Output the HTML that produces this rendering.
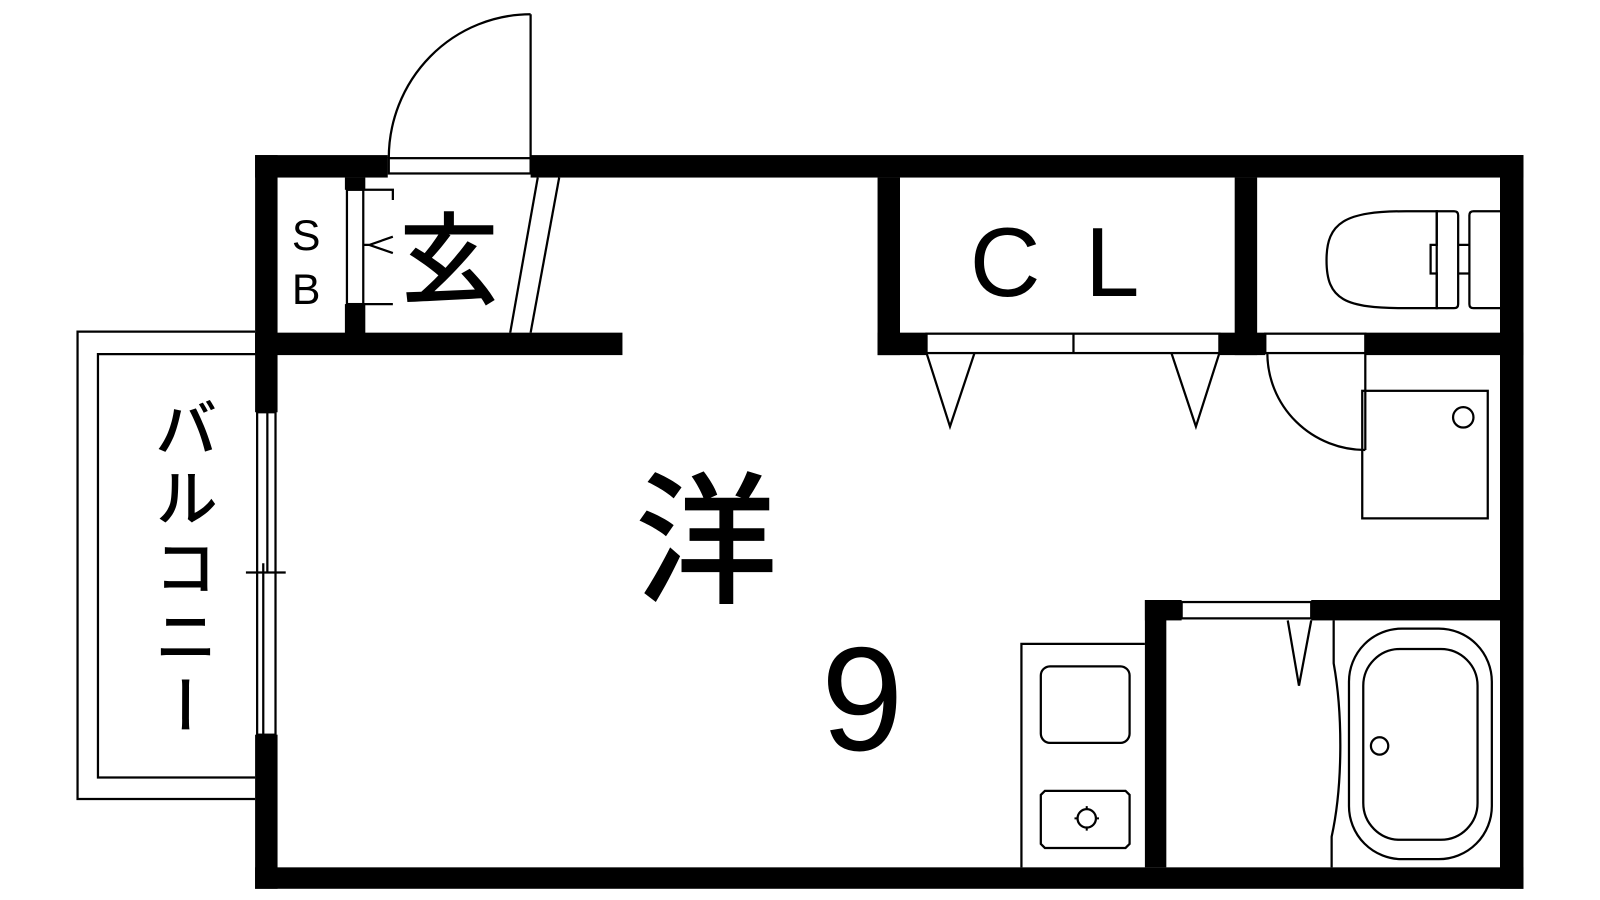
<!DOCTYPE html>
<html><head><meta charset="utf-8"><style>
html,body{margin:0;padding:0;background:#fff;}
svg{display:block;}
text{font-family:"Liberation Sans","Noto Sans CJK JP",sans-serif;fill:#000;}
</style></head><body>
<svg width="1600" height="900" viewBox="0 0 1568 882" preserveAspectRatio="none" xmlns="http://www.w3.org/2000/svg">
<g fill="#000" stroke="none">
<rect x="250" y="152" width="130" height="22"/>
<rect x="520" y="152" width="973" height="22"/>
<rect x="250" y="152" width="22" height="252"/>
<rect x="250" y="720" width="22" height="151"/>
<rect x="1470" y="152" width="23" height="719"/>
<rect x="250" y="850" width="1243" height="21"/>
<rect x="338" y="174" width="20" height="12"/>
<rect x="338" y="298" width="20" height="30"/>
<rect x="250" y="326" width="360" height="22"/>
<rect x="860" y="174" width="22" height="174"/>
<rect x="860" y="326" width="48" height="22"/>
<rect x="1210" y="174" width="22" height="174"/>
<rect x="1195" y="326" width="45" height="22"/>
<rect x="1338" y="326" width="155" height="22"/>
<rect x="1122" y="588" width="36" height="20"/>
<rect x="1285" y="588" width="208" height="20"/>
<rect x="1122" y="588" width="21" height="262"/>
</g>
<g fill="none" stroke="#000" stroke-width="2.2">
<rect x="381" y="155" width="139" height="15"/>
<line x1="520" y1="14" x2="520" y2="155"/>
<path d="M381,155 A139,141 0 0 1 520,14"/>
<rect x="340" y="186" width="16" height="112"/>
<path d="M356,186 H385 V196 M356,298 H385 M356,240 H362 L385,232 M362,240 L385,248"/>
<line x1="527" y1="174" x2="500" y2="326"/>
<line x1="548" y1="174" x2="520" y2="326"/>
<path d="M250,325 H76 V783 H250"/>
<path d="M250,347 H96 V762 H250"/>
<rect x="252" y="404" width="18" height="316"/>
<line x1="262" y1="404" x2="262" y2="562"/>
<line x1="258" y1="552" x2="258" y2="720"/>
<line x1="241" y1="561" x2="280" y2="561"/>
<rect x="908" y="327" width="287" height="19"/>
<line x1="1052" y1="327" x2="1052" y2="346"/>
<path d="M908,346 L931,418 L955,346"/>
<path d="M1148,346 L1172,418 L1195,346"/>
<path d="M1408,207 H1378 C1318,207 1300,218 1300,255 C1300,294 1318,302 1378,302 H1408 Z"/>
<path d="M1408,207 V240 H1402 V268 H1408 V302 H1425 Q1429,302 1429,298 V211 Q1429,207 1425,207 Z"/>
<path d="M1429,240 H1440 M1429,268 H1440"/>
<path d="M1470,207 H1444 Q1440,207 1440,211 V298 Q1440,302 1444,302 H1470"/>
<rect x="1240" y="327" width="98" height="19"/>
<path d="M1242,346 A96,95 0 0 0 1338,441"/>
<line x1="1338" y1="346" x2="1338" y2="441"/>
<rect x="1335" y="383" width="123" height="125"/>
<circle cx="1434" cy="409" r="10"/>
<path d="M1122,631 H1001 V850"/>
<rect x="1020" y="653" width="87" height="75" rx="9"/>
<path d="M1024,775 H1103 L1107,779 V827 L1103,831 H1024 L1020,827 V779 Z"/>
<path d="M1065,790 V814 M1053,802 H1077" stroke-width="2"/>
<rect x="1158" y="590" width="127" height="16"/>
<path d="M1262,608 L1273,672 L1285,608"/>
<path d="M1307,608 V650 C1316,700 1316,770 1305,820 V850"/>
<rect x="1322" y="616" width="140" height="226" rx="52"/>
<rect x="1336" y="636" width="112" height="187" rx="36"/>
<circle cx="1352" cy="731" r="8.5"/>
</g>
<circle cx="1065" cy="802" r="9" fill="#fff" stroke="#000" stroke-width="2.2"/>
<text x="300" y="245" font-size="42" text-anchor="middle">S</text>
<text x="300" y="298" font-size="42" text-anchor="middle">B</text>
<text x="440" y="290" font-size="98" font-weight="500" text-anchor="middle" font-family="Noto Sans CJK JP, sans-serif">玄</text>
<text x="985" y="290" font-size="96" text-anchor="middle">C</text>
<text x="1090" y="290" font-size="96" text-anchor="middle">L</text>
<text x="692" y="580" font-size="140" font-weight="500" text-anchor="middle" font-family="Noto Sans CJK JP, sans-serif">洋</text>
<text x="845" y="735" font-size="145" text-anchor="middle">9</text>
<text x="177" y="388" font-size="62" font-weight="500" writing-mode="tb" letter-spacing="6" font-family="Noto Sans CJK JP, sans-serif">バルコニー</text>
</svg>
</body></html>
